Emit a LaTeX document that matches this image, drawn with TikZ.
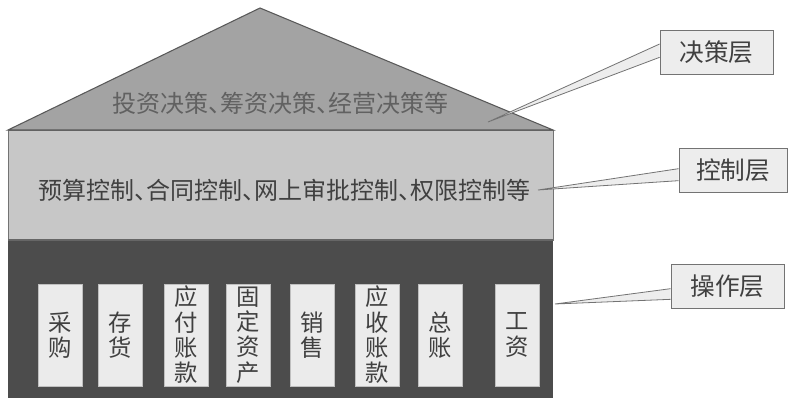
\documentclass[tikz,border=0pt]{standalone}
\usepackage{fontspec}
\setmainfont{Noto Sans CJK SC}
\newcommand\dun{、\kern-0.5em}
\begin{document}
\begin{tikzpicture}[x=0.75pt,y=-0.75pt,
  layertext/.style={font=\fontsize{18pt}{20pt}\selectfont,inner sep=0pt},
  modbox/.style={fill=black!8,draw=black!25,line width=0.4pt,minimum width=33pt,minimum height=76.5pt,inner sep=0pt,align=center,text=black!75,font=\fontsize{17.5pt}{19pt}\selectfont},
  tagbox/.style={fill=black!7,draw=black!55,line width=0.6pt,minimum height=33pt,inner sep=0pt,text=black!75,font=\fontsize{18.5pt}{20pt}\selectfont},
  wedge/.style={fill=black!7,draw=black!55,line width=0.6pt,line join=miter}]
\useasboundingbox (0,0) rectangle (788,398);
% layers
\coordinate (apex) at (260,8);
\coordinate (tl) at (8,130);
\coordinate (tr) at (553,130);
\coordinate (ml) at (8,240);
\coordinate (mr) at (553,240);
\coordinate (bl) at (8,398);
\coordinate (br) at (553,398);
\fill[black!70] (ml) rectangle (br);
\filldraw[fill=black!22,draw=black!55,line width=0.6pt] (tl) rectangle (mr);
\filldraw[fill=black!36,draw=black!65,line width=0.8pt,line join=miter] (apex) -- (tr) -- (tl) -- cycle;
\draw[black!60,line width=0.8pt] (ml) -- (mr);
% layer texts
\node[layertext,text=black!62] (t1) at (280,103) {投资决策\dun 筹资决策\dun 经营决策等};
\node[layertext,text=black!75] (t2) at (284,190) {预算控制\dun 合同控制\dun 网上审批控制\dun 权限控制等};
% module boxes
\node[modbox] (m1) at (60,335) {采\\购};
\node[modbox] (m2) at (120.5,335) {存\\货};
\node[modbox] (m3) at (186,335) {应\\付\\账\\款};
\node[modbox] (m4) at (248.5,335) {固\\定\\资\\产};
\node[modbox] (m5) at (312,335) {销\\售};
\node[modbox] (m6) at (377,335) {应\\收\\账\\款};
\node[modbox] (m7) at (440,335) {总\\账};
\node[modbox] (m8) at (517,335) {工\\资};
% tags
\node[tagbox,minimum width=84.75pt] (jc) at (716.5,52) {决策层};
\node[tagbox,minimum width=81pt] (kz) at (733,170) {控制层};
\node[tagbox,minimum width=84.75pt] (cz) at (727.5,286) {操作层};
\coordinate (p1) at (488,122);
\coordinate (p2) at (538,190);
\coordinate (p3) at (555,304);
\fill[black!7] ([yshift=6pt]jc.west) -- (p1) -- ([yshift=-4pt]jc.west) -- cycle;
\draw[wedge,fill=none] ([yshift=6pt]jc.west) -- (p1) -- ([yshift=-4pt]jc.west);
\fill[black!7] ([yshift=1pt]kz.west) -- (p2) -- ([yshift=-8pt]kz.west) -- cycle;
\draw[wedge,fill=none] ([yshift=1pt]kz.west) -- (p2) -- ([yshift=-8pt]kz.west);
\fill[black!7] ([yshift=-2pt]cz.west) -- (p3) -- ([yshift=-10pt]cz.west) -- cycle;
\draw[wedge,fill=none] ([yshift=-2pt]cz.west) -- (p3) -- ([yshift=-10pt]cz.west);
\end{tikzpicture}
\end{document}
